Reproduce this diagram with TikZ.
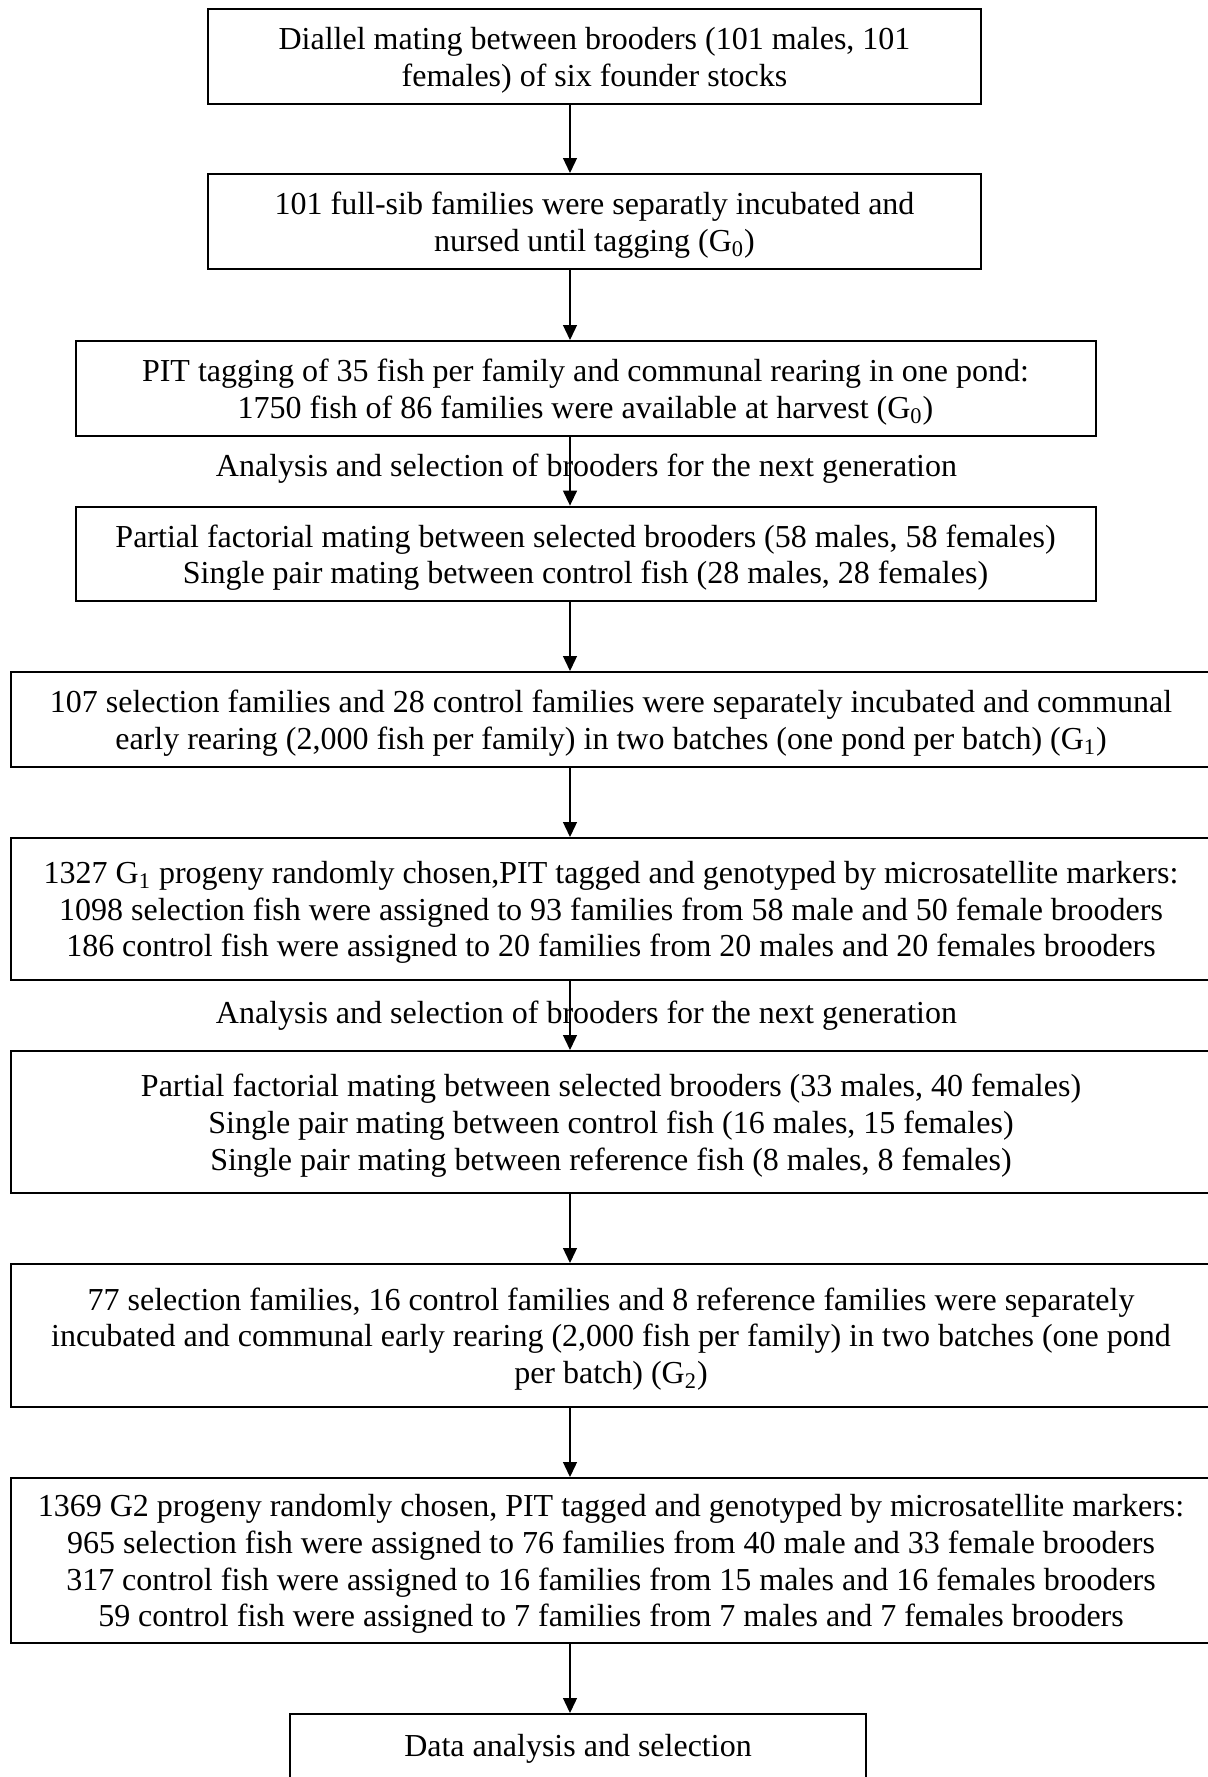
\documentclass[tikz,border=0pt]{standalone}
\usepackage{fontspec}
\setmainfont{Liberation Serif}
\usetikzlibrary{arrows.meta}
\begin{document}
\begin{tikzpicture}[x=0.5pt,y=-0.5pt,
  every node/.style={font=\fontsize{16}{18.3}\selectfont},
  box/.style={draw, line width=1pt, inner sep=0pt},
  txt/.style={align=center, inner sep=0pt},
  arr/.style={line width=0.65pt, -{Triangle[width=7pt,length=7.5pt]}}]
\useasboundingbox (0,0) rectangle (1208,1777);
\coordinate (ax) at (570,0);
% boxes
\node[box, minimum width=386.5pt, minimum height=47.5pt] (b1) at (594.5,56.5) {};
\node[box, minimum width=386.5pt, minimum height=47.5pt] (b2) at (594.5,221.5) {};
\node[box, minimum width=510pt, minimum height=47.5pt] (b3) at (585.5,388.5) {};
\node[box, minimum width=510pt, minimum height=47.4pt] (b4) at (585.5,554) {};
\node[box, minimum width=600pt, minimum height=47.5pt] (b5) at (611,719.5) {};
\node[box, minimum width=600pt, minimum height=71pt] (b6) at (611,909) {};
\node[box, minimum width=600pt, minimum height=71pt] (b7) at (611,1122) {};
\node[box, minimum width=600pt, minimum height=71.5pt] (b8) at (611,1335.5) {};
\node[box, minimum width=600pt, minimum height=82.5pt] (b9) at (611,1560.5) {};
\node[box, minimum width=288pt, minimum height=33pt] (b10) at (578,1747) {};
% texts
\node[txt] (t1) at ([yshift=-1.8pt]b1.center)
  {Diallel mating between brooders (101 males, 101\\females) of six founder stocks};
\node[txt] (t2) at ([yshift=-1.8pt]b2.center)
  {101 full-sib families were separatly incubated and\\nursed until tagging (G\textsubscript{0})};
\node[txt] (t3) at ([yshift=-1.8pt]b3.center)
  {PIT tagging of 35 fish per family and communal rearing in one pond:\\1750 fish of 86 families were available at harvest (G\textsubscript{0})};
\node[txt] (l1) at (586.5,468.5) {Analysis and selection of brooders for the next generation};
\node[txt] (t4) at ([yshift=-1.8pt]b4.center)
  {Partial factorial mating between selected brooders (58 males, 58 females)\\Single pair mating between control fish (28 males, 28 females)};
\node[txt] (t5) at ([yshift=-1.8pt]b5.center)
  {107 selection families and 28 control families were separately incubated and communal\\early rearing (2,000 fish per family) in two batches (one pond per batch) (G\textsubscript{1})};
\node[txt] (t6) at ([yshift=-1.8pt]b6.center)
  {1327 G\textsubscript{1} progeny randomly chosen,PIT tagged and genotyped by microsatellite markers:\\1098 selection fish were assigned to 93 families from 58 male and 50 female brooders\\186 control fish were assigned to 20 families from 20 males and 20 females brooders};
\node[txt] (l2) at (586.5,1015.5) {Analysis and selection of brooders for the next generation};
\node[txt] (t7) at ([yshift=-1.8pt]b7.center)
  {Partial factorial mating between selected brooders (33 males, 40 females)\\Single pair mating between control fish (16 males, 15 females)\\Single pair mating between reference fish (8 males, 8 females)};
\node[txt] (t8) at ([yshift=-1.8pt]b8.center)
  {77 selection families, 16 control families and 8 reference families were separately\\incubated and communal early rearing (2,000 fish per family) in two batches (one pond\\per batch) (G\textsubscript{2})};
\node[txt] (t9) at ([yshift=-1.8pt]b9.center)
  {1369 G2 progeny randomly chosen, PIT tagged and genotyped by microsatellite markers:\\965 selection fish were assigned to 76 families from 40 male and 33 female brooders\\317 control fish were assigned to 16 families from 15 males and 16 females brooders\\59 control fish were assigned to 7 families from 7 males and 7 females brooders};
\node[txt] (t10) at ([yshift=-1pt]b10.center) {Data analysis and selection};
% connectors
\draw[arr] (b1.south -| ax) -- (b2.north -| ax);
\draw[arr] (b2.south -| ax) -- (b3.north -| ax);
\draw[arr] (b3.south -| ax) -- (b4.north -| ax);
\draw[arr] (b4.south -| ax) -- (b5.north -| ax);
\draw[arr] (b5.south -| ax) -- (b6.north -| ax);
\draw[arr] (b6.south -| ax) -- (b7.north -| ax);
\draw[arr] (b7.south -| ax) -- (b8.north -| ax);
\draw[arr] (b8.south -| ax) -- (b9.north -| ax);
\draw[arr] (b9.south -| ax) -- (b10.north -| ax);
\end{tikzpicture}
\end{document}
